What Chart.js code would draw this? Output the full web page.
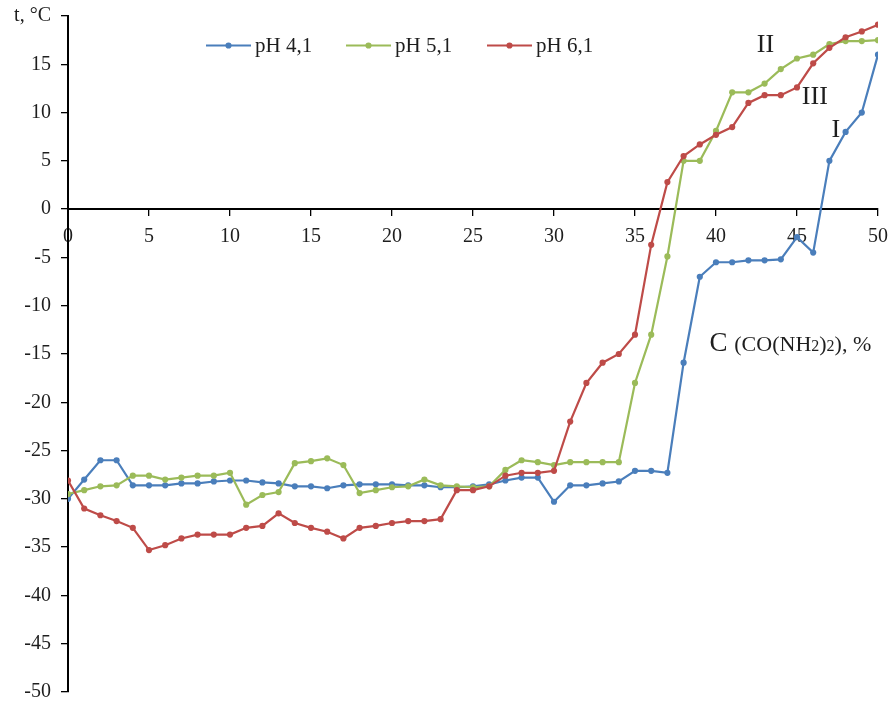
<!DOCTYPE html>
<html>
<head>
<meta charset="utf-8">
<script src="https://cdn.jsdelivr.net/npm/chart.js@4.4.1/dist/chart.umd.min.js"></script>
<style>
  html, body { margin: 0; padding: 0; background: #ffffff; }
  #wrap { width: 892px; height: 702px; position: relative; }
</style>
</head>
<body>
<div id="wrap"><canvas id="c" width="892" height="702"></canvas></div>
<script>
// ---- data ----
const concentration = [0,1,2,3,4,5,6,7,8,9,10,11,12,13,14,15,16,17,18,19,20,21,22,23,24,25,26,27,28,29,30,31,32,33,34,35,36,37,38,39,40,41,42,43,44,45,46,47,48,49,50];
const seriesNames = ['pH 4,1', 'pH 5,1', 'pH 6,1'];
const ph41 = [-30.0,-28.0,-26.0,-26.0,-28.6,-28.6,-28.6,-28.4,-28.4,-28.2,-28.1,-28.1,-28.3,-28.4,-28.7,-28.7,-28.9,-28.6,-28.5,-28.5,-28.5,-28.6,-28.6,-28.8,-28.8,-28.7,-28.5,-28.1,-27.8,-27.8,-30.3,-28.6,-28.6,-28.4,-28.2,-27.1,-27.1,-27.3,-15.9,-7.0,-5.5,-5.5,-5.3,-5.3,-5.2,-2.9,-4.5,5.0,8.0,10.0,16.0];
const ph51 = [-29.5,-29.1,-28.7,-28.6,-27.6,-27.6,-28.0,-27.8,-27.6,-27.6,-27.3,-30.6,-29.6,-29.3,-26.3,-26.1,-25.8,-26.5,-29.4,-29.1,-28.8,-28.7,-28.0,-28.6,-28.7,-28.8,-28.7,-27.0,-26.0,-26.2,-26.5,-26.2,-26.2,-26.2,-26.2,-18.0,-13.0,-4.9,5.0,5.0,8.1,12.1,12.1,13.0,14.5,15.6,16.0,17.1,17.4,17.4,17.5];
const ph61 = [-28.1,-31.0,-31.7,-32.3,-33.0,-35.3,-34.8,-34.1,-33.7,-33.7,-33.7,-33.0,-32.8,-31.5,-32.5,-33.0,-33.4,-34.1,-33.0,-32.8,-32.5,-32.3,-32.3,-32.1,-29.1,-29.1,-28.7,-27.6,-27.3,-27.3,-27.1,-22.0,-18.0,-15.9,-15.0,-13.0,-3.7,2.8,5.5,6.7,7.7,8.5,11.0,11.8,11.8,12.6,15.1,16.7,17.8,18.4,19.1];
const xTicks = [0,5,10,15,20,25,30,35,40,45,50];
const yTicks = [-50,-45,-40,-35,-30,-25,-20,-15,-10,-5,0,5,10,15,20];
const yAxisTitle = 't, °C';
const curveLabels = [
  { text: 'II',  x: 43.05, y: 17.0 },
  { text: 'III', x: 46.1,  y: 11.6 },
  { text: 'I',   x: 47.4,  y: 8.2 }
];
const xAxisTitle = { x: 39.6, y: -14.7 };

// ---- styles ----
const colors = ['#4A7EBB', '#9BBB59', '#BE4B48'];
const serif = '"Liberation Serif", "Times New Roman", serif';
const ink = '#1e1e1e';

function ds(label, values, color, order) {
  return {
    label: label,
    data: concentration.map((c, i) => ({ x: c, y: values[i] })),
    borderColor: color,
    backgroundColor: color,
    pointBackgroundColor: color,
    pointBorderColor: color,
    borderWidth: 2.2,
    pointRadius: 3.1,
    pointBorderWidth: 0,
    tension: 0,
    order: order
  };
}

const legendPlugin = {
  id: 'customLegend',
  afterDraw(chart) {
    const ctx = chart.ctx;
    const items = [
      { x: 206, text: seriesNames[0], color: colors[0] },
      { x: 346, text: seriesNames[1], color: colors[1] },
      { x: 487, text: seriesNames[2], color: colors[2] }
    ];
    const y = 45.5;
    ctx.save();
    items.forEach(it => {
      ctx.strokeStyle = it.color;
      ctx.lineWidth = 2.2;
      ctx.beginPath();
      ctx.moveTo(it.x, y);
      ctx.lineTo(it.x + 45, y);
      ctx.stroke();
      ctx.fillStyle = it.color;
      ctx.beginPath();
      ctx.arc(it.x + 22.5, y, 3.1, 0, Math.PI * 2);
      ctx.fill();
      ctx.fillStyle = ink;
      ctx.font = '21px ' + serif;
      ctx.textBaseline = 'middle';
      ctx.textAlign = 'left';
      ctx.fillText(it.text, it.x + 49, y + 1);
    });
    ctx.restore();
  }
};

const annotationPlugin = {
  id: 'annotations',
  afterDraw(chart) {
    const ctx = chart.ctx;
    const xs = chart.scales.x, ys = chart.scales.y;
    ctx.save();
    ctx.fillStyle = ink;
    ctx.textBaseline = 'middle';
    ctx.textAlign = 'center';
    ctx.font = '26px ' + serif;
    curveLabels.forEach(l => {
      ctx.fillText(l.text, xs.getPixelForValue(l.x), ys.getPixelForValue(l.y));
    });
    // axis title: C (CO(NH2)2), %
    let px = xs.getPixelForValue(xAxisTitle.x);
    const base = ys.getPixelForValue(xAxisTitle.y);
    ctx.textBaseline = 'alphabetic';
    ctx.textAlign = 'left';
    const parts = [
      { t: 'C ', f: '27px', dy: 0 },
      { t: '(CO(NH', f: '22px', dy: 0 },
      { t: '2', f: '16px', dy: 0 },
      { t: ')', f: '22px', dy: 0 },
      { t: '2', f: '16px', dy: 0 },
      { t: '), %', f: '22px', dy: 0 }
    ];
    parts.forEach(p => {
      ctx.font = p.f + ' ' + serif;
      ctx.fillText(p.t, px, base + p.dy);
      px += ctx.measureText(p.t).width;
    });
    ctx.restore();
  }
};

new Chart(document.getElementById('c'), {
  type: 'line',
  data: {
    datasets: [
      ds(seriesNames[0], ph41, colors[0], 3),
      ds(seriesNames[1], ph51, colors[1], 2),
      ds(seriesNames[2], ph61, colors[2], 1)
    ]
  },
  options: {
    responsive: false,
    animation: false,
    events: [],
    layout: { padding: { left: 0, right: 14, top: 16, bottom: 10 } },
    plugins: {
      legend: { display: false },
      tooltip: { enabled: false }
    },
    scales: {
      x: {
        type: 'linear',
        position: { y: 0 },
        min: 0, max: 50,
        afterBuildTicks: (s) => { s.ticks = xTicks.map(v => ({ value: v })); },
        afterFit: (s) => { s.paddingLeft = 0; s.paddingRight = 0; s.paddingTop = 0; s.paddingBottom = 0; },
        ticks: { color: ink, font: { family: serif, size: 20 }, padding: 10, maxRotation: 0, autoSkip: false },
        grid: { display: true, drawOnChartArea: false, drawTicks: true, tickLength: 6, color: '#000', lineWidth: 1.3 },
        border: { display: true, color: '#000', width: 2 }
      },
      y: {
        type: 'linear',
        min: -50, max: 20,
        afterBuildTicks: (s) => { s.ticks = yTicks.map(v => ({ value: v })); },
        afterFit: (s) => { s.width = 68; s.paddingTop = 0; s.paddingBottom = 0; },
        ticks: {
          color: ink, font: { family: serif, size: 20 }, padding: 10, autoSkip: false,
          callback: (v) => (v === 20 ? yAxisTitle : String(v))
        },
        grid: { display: true, drawOnChartArea: false, drawTicks: true, tickLength: 7, color: '#000', lineWidth: 1.3 },
        border: { display: true, color: '#000', width: 2 }
      }
    }
  },
  plugins: [legendPlugin, annotationPlugin]
});
</script>
</body>
</html>
